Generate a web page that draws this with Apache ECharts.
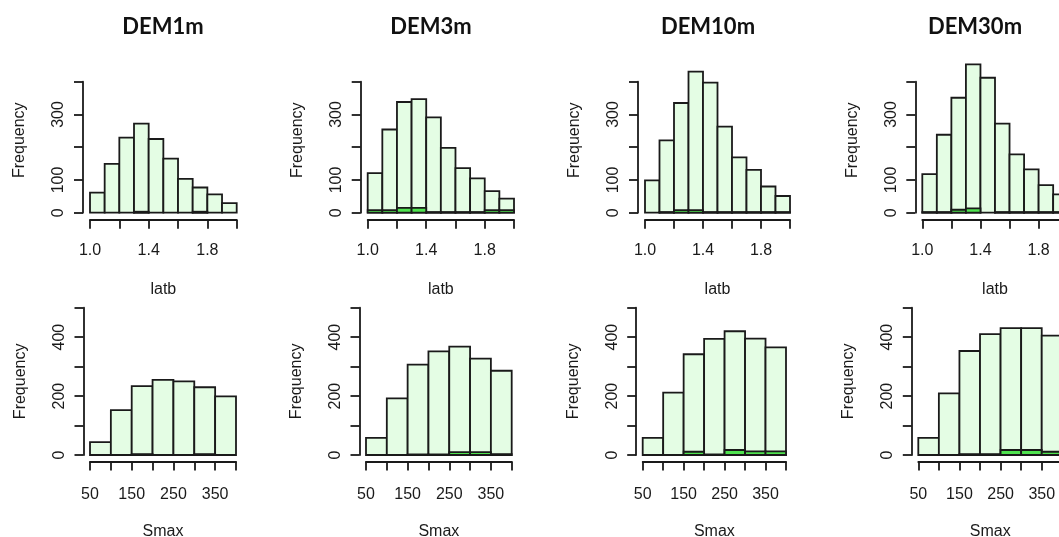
<!DOCTYPE html>
<html>
<head>
<meta charset="utf-8">
<script src="https://cdn.jsdelivr.net/npm/echarts@6/dist/echarts.min.js"></script>
<style>
  html, body { margin: 0; padding: 0; background: #fff; }
  #main { width: 1059px; height: 537px; }
</style>
</head>
<body>
<div id="main"></div>
<script>
// panel titles
const demNames = ['DEM1m', 'DEM3m', 'DEM10m', 'DEM30m']

// bin edges
const latbEdges = [1.0, 1.1, 1.2, 1.3, 1.4, 1.5, 1.6, 1.7, 1.8, 1.9, 2.0]
const smaxEdges = [50, 100, 150, 200, 250, 300, 350, 400]

// latb counts (all / subset)
const latbDem1 = [61, 149, 229, 272, 225, 165, 103, 77, 56, 29]
const latbDem3 = [121, 254, 338, 347, 291, 198, 136, 105, 66, 43]
const latbDem10 = [99, 221, 335, 431, 397, 263, 169, 131, 80, 51]
const latbDem30 = [118, 238, 351, 453, 412, 272, 178, 132, 84, 56]
const latbSubDem1 = [0, 0, 0, 3, 0, 0, 0, 3, 0, 0]
const latbSubDem3 = [8, 8, 15, 15, 2, 2, 2, 2, 8, 8]
const latbSubDem10 = [0, 2, 8, 8, 2, 2, 2, 2, 2, 2]
const latbSubDem30 = [2, 2, 9, 13, 0, 2, 2, 2, 2, 2]

// Smax counts (all / subset)
const smaxDem1 = [44, 152, 234, 255, 250, 230, 199]
const smaxDem3 = [58, 192, 307, 352, 368, 327, 286]
const smaxDem10 = [58, 212, 342, 394, 420, 395, 365]
const smaxDem30 = [58, 209, 353, 410, 431, 431, 405]
const smaxSubDem1 = [0, 0, 3, 0, 0, 3, 0]
const smaxSubDem3 = [0, 0, 2, 2, 10, 10, 3]
const smaxSubDem10 = [0, 0, 11, 2, 17, 12, 12]
const smaxSubDem30 = [0, 0, 3, 3, 17, 17, 11]

// tick labels that are printed
const latbXLabels = [1.0, 1.4, 1.8]
const smaxXLabels = [50, 150, 250, 350]
const latbYLabels = [0, 100, 300]
const smaxYLabels = [0, 200, 400]

const latbAll = [latbDem1, latbDem3, latbDem10, latbDem30]
const latbSub = [latbSubDem1, latbSubDem3, latbSubDem10, latbSubDem30]
const smaxAll = [smaxDem1, smaxDem3, smaxDem10, smaxDem30]
const smaxSub = [smaxSubDem1, smaxSubDem3, smaxSubDem10, smaxSubDem30]

const myChart = echarts.init(document.getElementById('main'))

const FONT = "'Liberation Sans', Arial, sans-serif"
const INK = '#1a1a1a'
const LW = 1.8

// 直方图的每个柱子: [左边界, 右边界, 频数]
const toBins = (edges, counts) => counts.map((c, i) => [edges[i], edges[i + 1], c])

const makeRender = (fill) => (params, api) => {
  const h = api.value(2)
  if (!h) return null
  const p0 = api.coord([api.value(0), h])
  const p1 = api.coord([api.value(1), 0])
  return {
    type: 'rect',
    shape: { x: p0[0], y: p0[1], width: p1[0] - p0[0], height: p1[1] - p0[1] },
    style: { fill: fill, stroke: INK, lineWidth: LW }
  }
}

const hasLabel = (list, v) => list.some((t) => Math.abs(t - v) < 1e-6)

// 网格位置
const topLefts = [90, 367.7, 645, 922.3]
const topWidths = [146.7, 146.3, 145, 145.4]
const botLefts = [90, 366, 642.7, 918.3]
const botWidths = [146, 145.7, 143.3, 144]

const grid = []
const xAxis = []
const yAxis = []
const series = []
const title = []

const addPanel = (idx, box, xCfg, yCfg, all, sub) => {
  grid.push(box)
  xAxis.push({
    gridIndex: idx,
    type: 'value',
    min: xCfg.min,
    max: xCfg.max,
    interval: xCfg.interval,
    offset: box.offset,
    name: xCfg.name,
    nameLocation: 'middle',
    nameGap: xCfg.nameGap,
    nameTextStyle: { fontFamily: FONT, fontSize: 16, color: INK },
    axisLine: { show: true, onZero: false, lineStyle: { color: INK, width: LW } },
    axisTick: { show: true, length: 9, lineStyle: { color: INK, width: LW } },
    axisLabel: {
      margin: xCfg.labelMargin,
      fontFamily: FONT,
      fontSize: 16,
      color: INK,
      showMinLabel: true,
      showMaxLabel: true,
      formatter: (v) => (hasLabel(xCfg.labels, v) ? xCfg.fmt(v) : '')
    },
    splitLine: { show: false }
  })
  yAxis.push({
    gridIndex: idx,
    type: 'value',
    min: 0,
    max: yCfg.max,
    interval: 100,
    offset: box.offset,
    name: 'Frequency',
    nameLocation: 'middle',
    nameGap: 55,
    nameTextStyle: { fontFamily: FONT, fontSize: 16, color: INK, padding: yCfg.namePad },
    axisLine: { show: true, lineStyle: { color: INK, width: LW } },
    axisTick: { show: true, length: 9, lineStyle: { color: INK, width: LW } },
    axisLabel: {
      rotate: 90,
      margin: 16,
      fontFamily: FONT,
      fontSize: 16,
      color: INK,
      formatter: (v) => (hasLabel(yCfg.labels, v) ? String(v) : '')
    },
    splitLine: { show: false }
  })
  series.push({
    type: 'custom',
    xAxisIndex: idx,
    yAxisIndex: idx,
    renderItem: makeRender('#e4fde4'),
    encode: { x: [0, 1], y: 2 },
    data: toBins(xCfg.edges, all),
    clip: false,
    silent: true
  })
  series.push({
    type: 'custom',
    xAxisIndex: idx,
    yAxisIndex: idx,
    renderItem: makeRender('#4fe34f'),
    encode: { x: [0, 1], y: 2 },
    data: toBins(xCfg.edges, sub),
    clip: false,
    silent: true,
    z: 3
  })
}

const latbX = {
  min: 1.0, max: 2.0, interval: 0.2, name: 'latb', nameGap: 62, labelMargin: 23,
  labels: latbXLabels, edges: latbEdges, fmt: (v) => v.toFixed(1)
}
const smaxX = {
  min: 50, max: 400, interval: 50, name: 'Smax', nameGap: 62, labelMargin: 25,
  labels: smaxXLabels, edges: smaxEdges, fmt: (v) => String(v)
}

demNames.forEach((name, i) => {
  addPanel(i, { left: topLefts[i], width: topWidths[i], top: 81.7, height: 131, offset: 7 },
    latbX, { max: 400, labels: latbYLabels, namePad: [0, 0, 0, 14] }, latbAll[i], latbSub[i])
})
demNames.forEach((name, i) => {
  addPanel(4 + i, { left: botLefts[i], width: botWidths[i], top: 307.7, height: 147.3, offset: 6.5 },
    smaxX, { max: 500, labels: smaxYLabels, namePad: 0 }, smaxAll[i], smaxSub[i])
})

const titleCenters = [158, 426, 703, 970]
demNames.forEach((name, i) => {
  title.push({
    text: name,
    left: titleCenters[i],
    top: 11,
    textAlign: 'center',
    textStyle: { fontFamily: "Lato, 'Open Sans', sans-serif", fontWeight: 'bold', fontSize: 22, color: '#111' }
  })
})

myChart.setOption({
  animation: false,
  backgroundColor: '#fff',
  title: title,
  grid: grid.map((g) => ({
    left: g.left, width: g.width, top: g.top, height: g.height,
    containLabel: false, outerBoundsMode: 'none'
  })),
  xAxis: xAxis,
  yAxis: yAxis,
  series: series
})
</script>
</body>
</html>
